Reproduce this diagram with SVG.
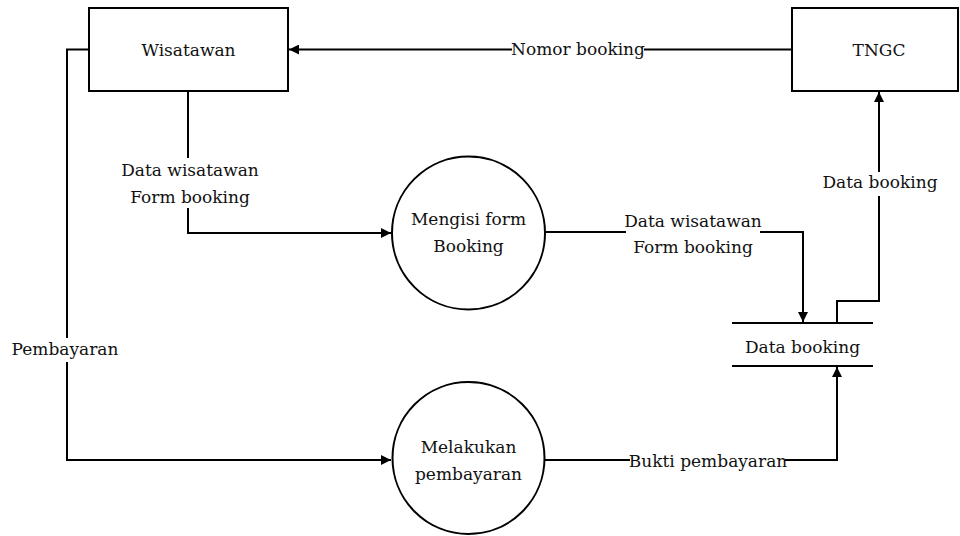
<svg xmlns="http://www.w3.org/2000/svg" width="960" height="536" viewBox="0 0 960 536">
<style>
.box{fill:#fff;stroke:#000;stroke-width:2}
.ln{fill:none;stroke:#000;stroke-width:2}
.bg{fill:#fff}
text{font-family:"DejaVu Serif",serif;font-size:17px;fill:#111;text-anchor:middle}
</style>
<defs>
<marker id="ah" viewBox="0 0 10 10" refX="10" refY="5" markerWidth="10" markerHeight="10" markerUnits="userSpaceOnUse" orient="auto">
<path d="M0,0 L10,5 L0,10 Z" fill="#000"/>
</marker>
</defs>
<rect width="960" height="536" fill="#fff"/>
<g id="connectors">
<path class="ln" d="M792,49.5 H289" marker-end="url(#ah)"/>
<path class="ln" d="M188,91 V233 H391" marker-end="url(#ah)"/>
<path class="ln" d="M89,49.5 H67 V460 H391" marker-end="url(#ah)"/>
<path class="ln" d="M545,232 H803 V322" marker-end="url(#ah)"/>
<path class="ln" d="M837,323 V301 H879 V92" marker-end="url(#ah)"/>
<path class="ln" d="M545,460 H837 V367" marker-end="url(#ah)"/>
<rect class="bg" x="512" y="38" width="132" height="22"/>
<text x="578" y="55">Nomor booking</text>
<rect class="bg" x="124" y="158" width="133" height="50"/>
<text x="190" y="176">Data wisatawan</text>
<text x="190" y="203">Form booking</text>
<rect class="bg" x="12" y="338" width="106" height="24"/>
<text x="65" y="355">Pembayaran</text>
<rect class="bg" x="626" y="210" width="134" height="50"/>
<text x="693" y="227">Data wisatawan</text>
<text x="693" y="253">Form booking</text>
<rect class="bg" x="823" y="172" width="114" height="24"/>
<text x="880" y="188">Data booking</text>
<rect class="bg" x="630" y="450" width="155" height="22"/>
<text x="708" y="467">Bukti pembayaran</text>
</g>
<g id="wisatawan">
<rect class="box" x="89" y="8" width="199" height="83"/>
<text x="188.5" y="56">Wisatawan</text>
</g>
<g id="tngc">
<rect class="box" x="792" y="8" width="166" height="83"/>
<text x="879" y="56">TNGC</text>
</g>
<g id="mengisi">
<circle class="box" cx="468.5" cy="233" r="76.5"/>
<text x="468.5" y="225">Mengisi form</text>
<text x="468.5" y="252">Booking</text>
</g>
<g id="melakukan">
<circle class="box" cx="468.5" cy="458" r="76"/>
<text x="468.5" y="453">Melakukan</text>
<text x="468.5" y="480">pembayaran</text>
</g>
<g id="databooking">
<line class="ln" x1="732" y1="323" x2="873" y2="323"/>
<line class="ln" x1="732" y1="366" x2="873" y2="366"/>
<text x="802.5" y="353">Data booking</text>
</g>
</svg>
